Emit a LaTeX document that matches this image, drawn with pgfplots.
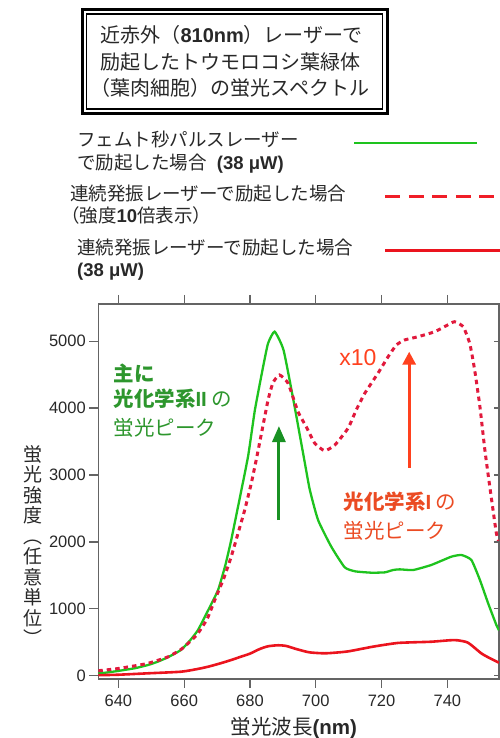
\documentclass[border=0pt]{standalone}
\usepackage{fontspec}
\setmainfont{Liberation Sans}
\newfontfamily\jp{Noto Sans CJK JP}
\usepackage{graphicx}
\usepackage{pgfplots}
\pgfplotsset{compat=1.18}
\usetikzlibrary{arrows.meta}
\definecolor{cgreen}{RGB}{30,195,30}
\definecolor{cred}{RGB}{235,20,30}
\definecolor{cdot}{RGB}{225,25,60}
\definecolor{cdash}{RGB}{240,30,40}
\definecolor{agreen}{RGB}{25,145,35}
\definecolor{tgreen}{RGB}{45,150,45}
\definecolor{ared}{RGB}{255,65,30}
\definecolor{tred}{RGB}{235,75,35}
\definecolor{axgray}{RGB}{100,100,100}
\definecolor{tdark}{RGB}{40,40,40}
\begin{document}
\begin{tikzpicture}[x=1pt,y=1pt]
\path[use as bounding box] (0,0) rectangle (500,738);
% title box
\draw[line width=3pt] (82.2,728) rectangle (387.7,624.5);
\draw[line width=1.2pt] (86.5,724) rectangle (382.5,629);
\node[anchor=base west, text=tdark, font=\fontsize{20}{20}\selectfont] at (97,695.4) {{\jp 近赤外（}\textbf{810nm}{\jp ）レーザーで}};
\node[anchor=base west, text=tdark, font=\fontsize{20}{20}\selectfont] at (97,668.4) {{\jp 励起したトウモロコシ葉緑体}};
\node[anchor=base west, text=tdark, font=\fontsize{20}{20}\selectfont] at (87,642.4) {{\jp （葉肉細胞）の蛍光スペクトル}};

\begin{axis}[
  at={(98.3pt,59pt)}, anchor=south west, scale only axis,
  width=400.7pt, height=375pt,
  xmin=633.9, xmax=755.7, ymin=-49, ymax=5556,
  xtick={640,660,...,740}, ytick={0,1000,...,5000},
  tick align=outside, xtick pos=both, ytick pos=left,
  major tick length=9pt,
  tick style={draw=axgray, line width=1.2pt},
  axis line style={draw=axgray, line width=1.3pt},
  ticklabel style={font=\fontsize{16.5}{16.5}\selectfont, text=tdark},
  x tick label style={yshift=-3pt},
  /pgf/number format/assume math mode=true,
  /pgf/number format/1000 sep={},
  scaled ticks=false,
  legend plot pos=right,
  legend style={at={(-0.0532,1.4621)}, anchor=north west, draw=none, fill=none,
    inner sep=0pt, font=\fontsize{18.5}{22.5}\selectfont, text=tdark,
    row sep=14pt, column sep=0pt, nodes={inner sep=0pt},
    cells={anchor=north west, align=left}},
]
\addlegendimage{legend image code/.code={\draw[cgreen, line width=2.5pt] (-2.5pt,-12pt) -- (120pt,-12pt);}}
\addlegendentry{{\jp フェムト秒パルスレーザー}\\{\jp で励起した場合}\ \ \textbf{(38 μW)}}
\addlegendimage{legend image code/.code={\draw[cdash, line width=3pt, dash pattern=on 15pt off 8.5pt] (28.5pt,-12pt) -- (150pt,-12pt);}}
\addlegendentry{\hspace*{-7pt}{\jp 連続発振レーザーで励起した場合}\\\hspace*{-16pt}{\jp （強度}\textbf{10}{\jp 倍表示）}}
\addlegendimage{legend image code/.code={\draw[cred, line width=3pt] (28.5pt,-12pt) -- (150pt,-12pt);}}
\addlegendentry{{\jp 連続発振レーザーで励起した場合}\\\textbf{(38 μW)}}

% green: femtosecond pulse
\addplot[cgreen, line width=2.3pt, smooth, tension=0.3, forget plot] coordinates {
(633.9,35)(636,45)(640,72)(645,112)(649,160)(652,210)(655,275)(659,384)(662,540)
(664.2,683)(667,950)(670.3,1281)(672.5,1650)(674.3,2028)(677.4,2776)(679.5,3300)
(681.5,3972)(684,4619)(685.5,4968)(687.5,5142)(690.2,4868)(693.2,4121)(696.7,3175)
(698.2,2776)(700.7,2327)(704.7,1930)(708.8,1620)(712,1560)(716.9,1540)(721,1545)
(723.5,1580)(725.5,1590)(729.6,1580)(735.1,1655)(741.2,1779)(744.3,1804)(747.3,1730)
(749.9,1430)(752.4,1082)(754.9,758)(755.7,680)};
% red dotted: CW x10
\addplot[cdot, line width=3pt, dash pattern=on 4.5pt off 4pt, smooth, tension=0.3, forget plot] coordinates {
(633.9,75)(636,85)(640,108)(645,148)(649,185)(655,280)(659.1,395)(662,520)(664.2,633)
(667,850)(669.3,1131)(672,1450)(674.3,1779)(676.5,2150)(678.4,2477)(680.4,2876)
(682,3250)(683.5,3623)(685.5,4121)(687,4380)(689,4495)(691.6,4370)(694.6,3946)
(697.1,3722)(699.7,3474)(702.7,3363)(705.8,3448)(709.8,3698)(712.3,3972)(714.9,4221)
(718.9,4520)(722,4768)(724.5,4943)(727,5018)(731.1,5067)(736.2,5142)(740,5240)
(742.2,5291)(744.8,5217)(746.8,4968)(748.3,4570)(749.9,4021)(751.4,3374)(752.9,2825)
(754.9,2128)(755.7,2000)};
% red solid: CW 38 uW
\addplot[cred, line width=2.6pt, smooth, tension=0.4, forget plot] coordinates {
(633.9,8)(640,15)(649,36)(659,60)(664,100)(667.3,135)(671,185)(674.3,235)(677,280)
(680,330)(683,400)(685.5,440)(688.5,455)(691,445)(694,400)(698,350)(702.5,335)
(706,345)(710,365)(716.9,430)(720.5,459)(725,490)(730,500)(735.1,508)(740.8,530)
(743,530)(746.3,493)(750.3,335)(753,260)(755.7,195)};

\draw[agreen, line width=3pt, -{Triangle[length=16pt,width=13pt]}] (axis cs:688.8,2327) -- (axis cs:688.8,3732);
\draw[ared, line width=3pt, -{Triangle[length=13pt,width=13pt]}] (axis cs:728.4,3106) -- (axis cs:728.4,4843);
\node[text=ared, font=\fontsize{23}{23}\selectfont] at (axis cs:712.8,4760) {x10};
\end{axis}

\begin{axis}[
  at={(98.3pt,59pt)}, anchor=south west, scale only axis,
  width=400.7pt, height=375pt,
  xmin=633.9, xmax=755.7, ymin=-49, ymax=5556,
  axis line style={draw=none}, xtick=\empty, ytick={0,1000,...,5000},
  ytick pos=right, tick align=inside, major tick length=5pt, yticklabels={},
  tick style={draw=axgray, line width=1.2pt},
]
\addplot[draw=none] coordinates {(640,0)};
\end{axis}

% annotations
\node[anchor=base west, text=tgreen, font=\fontsize{20.5}{20.5}\selectfont] at (110,356.5) {{\jp\bfseries 主に}};
\node[anchor=base west, text=tgreen, font=\fontsize{20.5}{20.5}\selectfont] at (110,331.5) {{\jp\bfseries 光化学系}\textbf{II}{\jp\ の}};
\node[anchor=base west, text=tgreen, font=\fontsize{20.5}{20.5}\selectfont] at (110,302.5) {{\jp 蛍光ピーク}};
\node[anchor=base west, text=tred, font=\fontsize{20.5}{20.5}\selectfont] at (340,228.5) {{\jp\bfseries 光化学系}\textbf{I}{\jp\ の}};
\node[anchor=base west, text=tred, font=\fontsize{20.5}{20.5}\selectfont] at (340,199.2) {{\jp 蛍光ピーク}};

% axis labels
\node[align=center, text=tdark, font=\jp\fontsize{19}{20.5}\selectfont] at (33,192.5) {蛍\\光\\強\\度\\︵\\任\\意\\単\\位\\︶};
\node[anchor=base west, text=tdark, font=\fontsize{20.5}{20.5}\selectfont] at (227,3.5) {{\jp 蛍光波長}\textbf{(nm)}};
\end{tikzpicture}
\end{document}
